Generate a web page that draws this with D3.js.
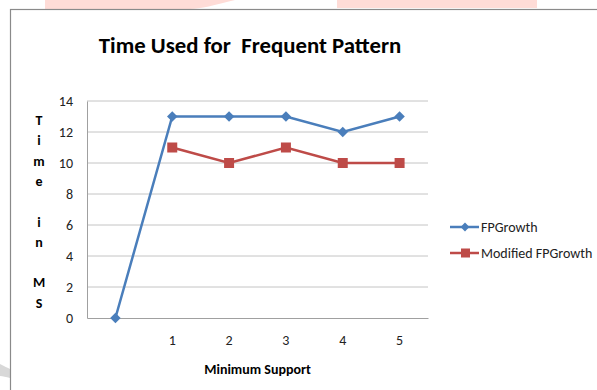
<!DOCTYPE html>
<html><head><meta charset="utf-8">
<script src="https://cdn.jsdelivr.net/npm/d3@7"></script>
<style>body{margin:0;background:#fff}svg{display:block}</style>
</head><body>
<svg id="c" width="597" height="390"></svg>
<script>
const categories = ["", "1", "2", "3", "4", "5"];
const fpGrowth = [0, 13, 13, 13, 12, 13];
const modifiedFpGrowth = [null, 11, 10, 11, 10, 10];
const yTicks = [0, 2, 4, 6, 8, 10, 12, 14];
const seriesNames = ["FPGrowth", "Modified FPGrowth"];
const yTitleLetters = ["T", "i", "m", "e", "", "i", "n", "", "M", "S"];

(function () {
const svg = d3.select("#c");
const font = "Calibri, Carlito, 'Open Sans', 'Noto Sans', sans-serif";

// faint watermark above the frame
svg.append("path").attr("d", "M45,0 L235,0 C215,5 200,9 190,9 L45,9 Z").attr("fill", "#ffdcd7");
svg.append("rect").attr("x", 337).attr("y", 0).attr("width", 200).attr("height", 8).attr("fill", "#ffdcd7");
svg.append("path").attr("d", "M0,364 C4,366 8,368 10,369 L10,378 C6,377 3,376 0,376 Z").attr("fill", "#d8d8d8");

// frame
svg.append("rect").attr("x", 10.5).attr("y", 9.5).attr("width", 600).attr("height", 400)
  .attr("fill", "none").attr("stroke", "#8a8a8a").attr("stroke-width", 1.2);

const pl = 87, pr = 428, pt = 101, pb = 318;
const x = d3.scaleBand().domain(categories.map((c, i) => i)).range([pl, pr]);
const y = d3.scaleLinear().domain([0, 14]).range([pb, pt]);
const cx = i => x(i) + x.bandwidth() / 2;

// gridlines
svg.append("g").selectAll("line").data(yTicks.filter(t => t > 0)).join("line")
  .attr("x1", pl).attr("x2", pr).attr("y1", d => y(d)).attr("y2", d => y(d))
  .attr("stroke", "#c4c4c4").attr("stroke-width", 1);

// y axis
const yAxis = svg.append("g").attr("transform", `translate(${pl},0)`)
  .call(d3.axisLeft(y).tickValues(yTicks).tickSize(0).tickPadding(14));
yAxis.select(".domain").attr("stroke", "#a0a0a0");
yAxis.selectAll("text").attr("font-family", font).attr("font-size", 14).attr("fill", "#222");

// x axis
const xAxis = svg.append("g").attr("transform", `translate(0,${pb})`)
  .call(d3.axisBottom(x).tickFormat(i => categories[i]).tickSize(0).tickPadding(17));
xAxis.select(".domain").attr("stroke", "#a0a0a0");
xAxis.selectAll("text").attr("font-family", font).attr("font-size", 14).attr("fill", "#222");

// title
svg.append("text").attr("x", 250).attr("y", 53).attr("text-anchor", "middle")
  .attr("font-family", font).attr("font-weight", "bold").attr("font-size", 22.8)
  .attr("fill", "#000").style("white-space", "pre").text("Time Used for  Frequent Pattern");

// x title
svg.append("text").attr("x", (pl + pr) / 2).attr("y", 374).attr("text-anchor", "middle")
  .attr("font-family", font).attr("font-weight", "bold").attr("font-size", 14).attr("fill", "#000")
  .text("Minimum Support");

// y title stacked letters
svg.append("g").selectAll("text").data(yTitleLetters).join("text")
  .attr("x", 39).attr("y", (d, i) => 125 + i * 20.3).attr("text-anchor", "middle")
  .attr("font-family", font).attr("font-weight", "bold").attr("font-size", 14).attr("fill", "#000")
  .text(d => d);

const blue = "#4a7ebb", red = "#be4b48";
const line = d3.line().defined(d => d.v != null).x(d => cx(d.i)).y(d => y(d.v));

const s1 = fpGrowth.map((v, i) => ({ i, v }));
const s2 = modifiedFpGrowth.map((v, i) => ({ i, v }));

svg.append("path").datum(s1).attr("d", line).attr("fill", "none").attr("stroke", blue).attr("stroke-width", 2.5);
svg.append("path").datum(s2).attr("d", line).attr("fill", "none").attr("stroke", red).attr("stroke-width", 2.5);

const diamond = d3.symbol().type(d3.symbolDiamond2).size(70);
svg.append("g").selectAll("path").data(s1.filter(d => d.v != null)).join("path")
  .attr("d", diamond).attr("transform", d => `translate(${cx(d.i)},${y(d.v)})`).attr("fill", blue);
svg.append("g").selectAll("rect").data(s2.filter(d => d.v != null)).join("rect")
  .attr("x", d => cx(d.i) - 5).attr("y", d => y(d.v) - 5).attr("width", 10).attr("height", 10).attr("fill", red);

// legend
const leg = svg.append("g");
const legItems = [{ name: seriesNames[0], color: blue, type: "d", ly: 227 }, { name: seriesNames[1], color: red, type: "s", ly: 253 }];
legItems.forEach(it => {
  leg.append("line").attr("x1", 450).attr("x2", 479).attr("y1", it.ly).attr("y2", it.ly)
    .attr("stroke", it.color).attr("stroke-width", 2.5);
  if (it.type === "d") {
    leg.append("path").attr("d", d3.symbol().type(d3.symbolDiamond2).size(50)).attr("transform", `translate(465,${it.ly})`).attr("fill", it.color);
  } else {
    leg.append("rect").attr("x", 461).attr("y", it.ly - 4.5).attr("width", 9).attr("height", 9).attr("fill", it.color);
  }
  leg.append("text").attr("x", 481).attr("y", it.ly + 5).attr("font-family", font).attr("font-size", 14)
    .attr("fill", "#222").text(it.name);
});
})();
</script>
</body></html>
